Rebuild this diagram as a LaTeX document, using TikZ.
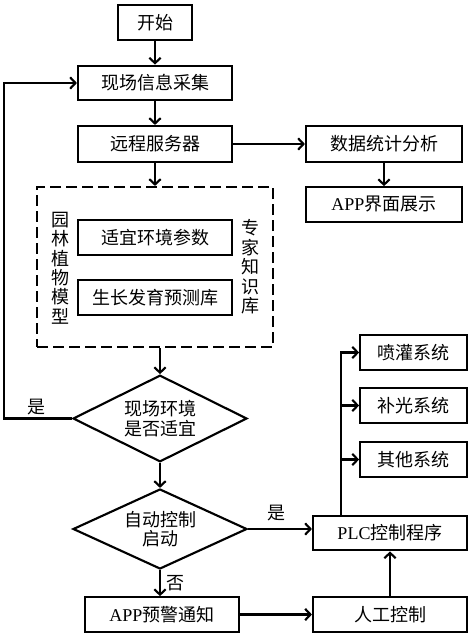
\documentclass[tikz,border=0pt]{standalone}
\usepackage{fontspec}
\setmainfont{Liberation Serif}
\newfontfamily\cjk{Noto Sans CJK SC}
\usetikzlibrary{arrows.meta,shapes.geometric}
\newcommand\tnr[1]{{\rmfamily #1}}
\tikzset{>={Straight Barb[length=4pt,width=8.5pt,line width=1.6pt]},
  every node/.style={font=\cjk\fontsize{13.5}{14.6}\selectfont,align=center},
  box/.style={draw,rectangle,inner sep=0pt,minimum height=26pt},
  dashbox/.style={draw,dash pattern=on 8pt off 4pt,minimum width=177pt,minimum height=120pt},
  decision/.style={draw,diamond,aspect=2,inner sep=0pt,minimum width=130.5pt},
  flow/.style={->}}
\begin{document}
\begin{tikzpicture}[x=.75pt,y=-.75pt,line width=1.6pt]
\useasboundingbox (0,0) rectangle (472,635);
\node[box,minimum width=55.5pt] (start) at (155,22.5) {开始};
\node[box,minimum width=115.5pt] (collect) at (155,83) {现场信息采集};
\node[box,minimum width=115.5pt,minimum height=27pt] (server) at (155,144) {远程服务器};
\node[box,minimum width=117pt,minimum height=27pt] (stats) at (384,144) {数据统计分析};
\node[box,minimum width=117pt] (appshow) at (384,204.5) {\tnr{APP}界面展示};
\node[dashbox] (kb) at (155,267) {};
\node[box,minimum width=115.5pt] (param) at (155,237.5) {适宜环境参数};
\node[box,minimum width=115.5pt] (growth) at (155,297.5) {生长发育预测库};
\node (model) at (60,268) {园\\林\\植\\物\\模\\型};
\node (expert) at (250,267) {专\\家\\知\\识\\库};
\node[decision,minimum height=65pt] (env) at (160,418.5) {现场环境\\是否适宜};
\node[decision,minimum height=60pt] (auto) at (160,529) {自动控制\\启动};
\node[box,minimum width=115.5pt] (plc) at (390,533) {\tnr{PLC}控制程序};
\node[box,minimum width=80pt] (spray) at (413.5,352.5) {喷灌系统};
\node[box,minimum width=80pt] (light) at (413.5,405.5) {补光系统};
\node[box,minimum width=80pt] (other) at (413.5,459.5) {其他系统};
\node[box,minimum width=115.5pt] (warn) at (162,614.5) {\tnr{APP}预警通知};
\node[box,minimum width=115.5pt] (manual) at (390,614.5) {人工控制};
\coordinate (loop) at (4,418.5);
\coordinate (bus) at (341,352.5);
\draw[flow] (start) -- (collect);
\draw[flow] (collect) -- (server);
\draw[flow] (server) -- (stats);
\draw[flow] (stats) -- (appshow);
\draw[flow] (server) -- (kb);
\draw[flow] (kb.south -| env.north) -- (env);
\draw[flow] (env.west) -- (loop) |- (collect.west);
\node (yes1) at (36,407) {是};
\draw[flow] (env) -- (auto);
\draw[flow] (auto.east) -- (auto.east -| plc.west) node[pos=.45,above=2pt] (yes2) {是};
\draw[flow] (auto.south) -- (auto.south |- warn.north) node[midway,right=1pt] (no) {否};
\draw[flow] (warn) -- (manual);
\draw[flow] (manual) -- (plc);
\draw[flow] (plc.north -| bus) |- (spray.west);
\foreach \s in {light,other}{\draw[flow] (bus |- \s.west) -- (\s.west);}
\end{tikzpicture}
\end{document}
